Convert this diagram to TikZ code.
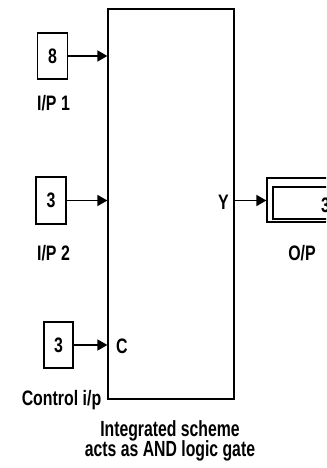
\documentclass[tikz,border=0pt]{standalone}
\usepackage{fontspec}
\setmainfont[FakeStretch=0.76]{Liberation Sans}
\newfontfamily\capfont[FakeStretch=0.72]{Liberation Sans}
\usetikzlibrary{arrows.meta, positioning}
\tikzset{
	tri/.tip={Triangle[length=10bp, width=11bp]},
	srcbox/.style={draw, line width=1.2bp, minimum width=30bp, minimum height=46bp, inner sep=0pt},
	lbl/.style={font=\fontsize{21}{24}\selectfont\bfseries, inner sep=0pt},
	caplbl/.style={font=\capfont\fontsize{22}{24}\selectfont\bfseries, inner sep=0pt, anchor=base},
	sig/.style={line width=1.5bp, -tri},
}

\begin{document}
\begin{tikzpicture}[x=1bp, y=-1bp]
	\useasboundingbox (0,0) rectangle (326,468);
	\clip (0,0) rectangle (326,468);
	
	% Integrated block
	\node[draw, line width=1.2bp, minimum width=126bp, minimum height=390bp, inner sep=0pt] (blk) at (171,204) {};
	
	% Sources
	\node[srcbox, lbl] (in1) at (52.5,56) {8};
	\node[srcbox, lbl, minimum height=47bp] (in2) at (51,200.5) {3};
	\node[srcbox, lbl, minimum width=29bp] (ctl) at (58.5,345) {3};
	\node[lbl, anchor=base] (in1lbl) at (53.5,111) {I/P 1};
	\node[lbl, anchor=base] (in2lbl) at (53.5,260) {I/P 2};
	\node[lbl, anchor=base] (ctllbl) at (61.5,405) {Control i/p};
	
	% Inputs
	\draw[sig] (in1.east) -- (in1.east -| blk.west);
	\draw[sig] (in2.east) -- (in2.east -| blk.west);
	\draw[sig] (ctl.east) -- (ctl.east -| blk.west);
	\node[lbl, anchor=base west] (cport) at (116,353) {C};
	\node[lbl, anchor=base east] (yport) at (229,210) {Y};
	
	% Display
	\node[draw, line width=1.2bp, minimum width=72bp, minimum height=44bp, inner sep=0pt] (disp) at (303,200) {};
	\node[draw, line width=1.2bp, minimum width=62bp, minimum height=32bp, inner sep=0pt] (dispin) at (304,203) {};
	\node[lbl, anchor=base west] (dispval) at (321,213) {3};
	\node[lbl, anchor=base] (displbl) at (302,260) {O/P};
	\draw[sig] (blk.east |- in2.east) -- (disp.west |- in2.east);
	
	% Caption
	\node[caplbl] (cap1) at (170,436) {Integrated scheme};
	\node[caplbl] (cap2) at (170,456) {acts as AND logic gate};
\end{tikzpicture}
\end{document}
